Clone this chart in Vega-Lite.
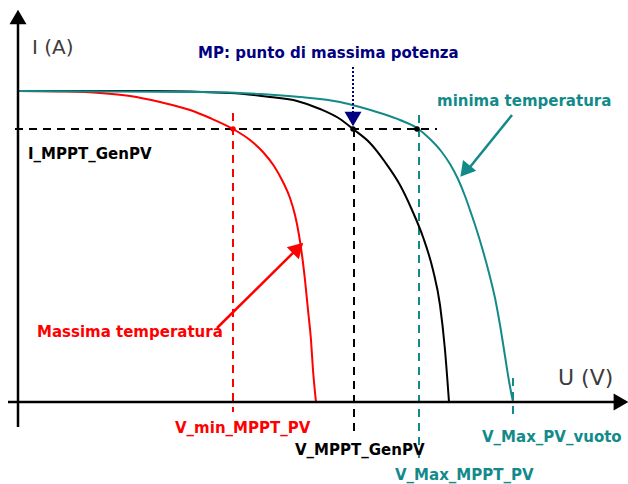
{
  "$schema": "https://vega.github.io/schema/vega-lite/v6.json",
  "width": 628,
  "height": 484,
  "padding": 0,
  "autosize": {"type": "none"},
  "background": "white",
  "config": {"view": {"stroke": null}},
  "datasets": {
    "curve": [
      {"curva": "max", "u": 0, "i": 311}, {"curva": "max", "u": 42, "i": 310.5}, {"curva": "max", "u": 82, "i": 309}, {"curva": "max", "u": 112, "i": 306}, {"curva": "max", "u": 142, "i": 300}, {"curva": "max", "u": 172, "i": 292}, {"curva": "max", "u": 192, "i": 284}, {"curva": "max", "u": 215, "i": 273}, {"curva": "max", "u": 232, "i": 262}, {"curva": "max", "u": 245, "i": 250}, {"curva": "max", "u": 256, "i": 236}, {"curva": "max", "u": 265, "i": 220}, {"curva": "max", "u": 272, "i": 204}, {"curva": "max", "u": 277, "i": 187}, {"curva": "max", "u": 281, "i": 167}, {"curva": "max", "u": 284, "i": 147}, {"curva": "max", "u": 287, "i": 122}, {"curva": "max", "u": 290, "i": 92}, {"curva": "max", "u": 293, "i": 62}, {"curva": "max", "u": 295, "i": 32}, {"curva": "max", "u": 298, "i": 0},
      {"curva": "nom", "u": 0, "i": 311}, {"curva": "nom", "u": 132, "i": 311}, {"curva": "nom", "u": 212, "i": 309}, {"curva": "nom", "u": 252, "i": 305}, {"curva": "nom", "u": 279, "i": 301}, {"curva": "nom", "u": 302, "i": 293}, {"curva": "nom", "u": 322, "i": 283}, {"curva": "nom", "u": 335, "i": 273}, {"curva": "nom", "u": 352, "i": 259}, {"curva": "nom", "u": 367, "i": 240}, {"curva": "nom", "u": 382, "i": 217}, {"curva": "nom", "u": 394, "i": 192}, {"curva": "nom", "u": 405, "i": 165}, {"curva": "nom", "u": 415, "i": 132}, {"curva": "nom", "u": 422, "i": 97}, {"curva": "nom", "u": 427, "i": 52}, {"curva": "nom", "u": 431, "i": 0},
      {"curva": "min", "u": 0, "i": 311}, {"curva": "min", "u": 182, "i": 310}, {"curva": "min", "u": 242, "i": 308}, {"curva": "min", "u": 282, "i": 305}, {"curva": "min", "u": 322, "i": 300}, {"curva": "min", "u": 342, "i": 295}, {"curva": "min", "u": 362, "i": 289}, {"curva": "min", "u": 382, "i": 282}, {"curva": "min", "u": 399, "i": 274}, {"curva": "min", "u": 412, "i": 263}, {"curva": "min", "u": 423, "i": 251}, {"curva": "min", "u": 432, "i": 238}, {"curva": "min", "u": 440, "i": 223}, {"curva": "min", "u": 447, "i": 206}, {"curva": "min", "u": 453, "i": 189}, {"curva": "min", "u": 459, "i": 171}, {"curva": "min", "u": 465, "i": 151}, {"curva": "min", "u": 471, "i": 129}, {"curva": "min", "u": 477, "i": 104}, {"curva": "min", "u": 482, "i": 77}, {"curva": "min", "u": 487, "i": 46}, {"curva": "min", "u": 491, "i": 21}, {"curva": "min", "u": 495, "i": 0}
    ],
    "guide": [
      {"curva": "nom", "u": -3, "i": 273, "u2": 419, "i2": 273},
      {"curva": "max", "u": 215, "i": 289, "u2": 215, "i2": -10},
      {"curva": "nom", "u": 336, "i": 273, "u2": 336, "i2": -35},
      {"curva": "min", "u": 401, "i": 287, "u2": 401, "i2": -56},
      {"curva": "min", "u": 495, "i": 24, "u2": 495, "i2": -18}
    ],
    "dotted": [
      {"curva": "mp", "u": 335, "i": 335, "u2": 335, "i2": 290}
    ],
    "solid": [
      {"curva": "asse", "u": 0, "i": -25, "u2": 0, "i2": 385},
      {"curva": "asse", "u": -10, "i": 0, "u2": 600, "i2": 0},
      {"curva": "max", "u": 199, "i": 74, "u2": 280, "i2": 154},
      {"curva": "min", "u": 494, "i": 287, "u2": 448, "i2": 230}
    ],
    "heads": [
      {"nome": "asse_y", "curva": "asse", "u": 0, "i": 385, "direzione": 0},
      {"nome": "asse_x", "curva": "asse", "u": 603, "i": 0, "direzione": 90},
      {"nome": "mp", "curva": "mp", "u": 335, "i": 283, "direzione": 180},
      {"nome": "max", "curva": "max", "u": 280, "i": 154, "direzione": 45},
      {"nome": "min", "curva": "min", "u": 447, "i": 231, "direzione": 219}
    ],
    "dots": [
      {"curva": "max", "u": 215, "i": 273},
      {"curva": "asse", "u": 335, "i": 273},
      {"curva": "asse", "u": 399, "i": 273}
    ],
    "labels": [
      {"testo": "MP: punto di massima potenza", "curva": "mp", "u": 180, "i": 349},
      {"testo": "minima temperatura", "curva": "min", "u": 419, "i": 301},
      {"testo": "I_MPPT_GenPV", "curva": "nom", "u": 10, "i": 248},
      {"testo": "Massima temperatura", "curva": "max", "u": 19, "i": 70},
      {"testo": "V_min_MPPT_PV", "curva": "max", "u": 157, "i": -26},
      {"testo": "V_MPPT_GenPV", "curva": "nom", "u": 277, "i": -48},
      {"testo": "V_Max_MPPT_PV", "curva": "min", "u": 377, "i": -73},
      {"testo": "V_Max_PV_vuoto", "curva": "min", "u": 464, "i": -35}
    ]
  },
  "encoding": {
    "x": {"field": "u", "type": "quantitative", "scale": {"domain": [-18, 610], "nice": false, "zero": false}, "axis": null},
    "y": {"field": "i", "type": "quantitative", "scale": {"domain": [-82, 402], "nice": false, "zero": false}, "axis": null}
  },
  "layer": [
    {
      "data": {"name": "guide"},
      "mark": {"type": "rule", "strokeWidth": 2, "strokeDash": [8, 6]},
      "encoding": {
        "x2": {"field": "u2"},
        "y2": {"field": "i2"},
        "color": {"field": "curva", "type": "nominal", "scale": {"domain": ["max", "nom", "min", "mp", "asse"], "range": ["#ff0000", "#000000", "#138a8a", "#000080", "#000000"]}, "legend": null}
      }
    },
    {
      "data": {"name": "curve"},
      "mark": {"type": "line", "strokeWidth": 2, "interpolate": "monotone"},
      "encoding": {
        "color": {"field": "curva", "type": "nominal", "legend": null},
        "order": {"field": "u", "type": "quantitative"}
      }
    },
    {
      "data": {"name": "dotted"},
      "mark": {"type": "rule", "strokeWidth": 2, "strokeDash": [2, 2]},
      "encoding": {
        "x2": {"field": "u2"},
        "y2": {"field": "i2"},
        "color": {"field": "curva", "type": "nominal", "legend": null}
      }
    },
    {
      "data": {"name": "solid"},
      "mark": {"type": "rule", "strokeWidth": 2.5},
      "encoding": {
        "x2": {"field": "u2"},
        "y2": {"field": "i2"},
        "color": {"field": "curva", "type": "nominal", "legend": null}
      }
    },
    {
      "data": {"name": "dots"},
      "mark": {"type": "point", "filled": true, "size": 30, "opacity": 1},
      "encoding": {
        "color": {"field": "curva", "type": "nominal", "legend": null}
      }
    },
    {
      "data": {"name": "heads"},
      "mark": {"type": "point", "shape": "triangle-up", "filled": true, "opacity": 1},
      "encoding": {
        "color": {"field": "curva", "type": "nominal", "legend": null},
        "angle": {"field": "direzione", "type": "quantitative", "scale": null},
        "size": {"field": "nome", "type": "nominal", "scale": {"domain": ["asse_y", "asse_x", "mp", "max", "min"], "range": [289, 289, 300, 256, 144]}, "legend": null}
      }
    },
    {
      "data": {"name": "labels"},
      "mark": {"type": "text", "font": "DejaVu Sans", "fontWeight": "bold", "fontSize": 15, "align": "left", "baseline": "middle"},
      "encoding": {
        "text": {"field": "testo"},
        "color": {"field": "curva", "type": "nominal", "legend": null}
      }
    },
    {
      "data": {"values": [{"testo": "I (A)", "u": 14, "i": 354}]},
      "mark": {"type": "text", "font": "DejaVu Sans", "fontSize": 20, "align": "left", "baseline": "middle", "color": "#3c3c3c"},
      "encoding": {"text": {"field": "testo"}}
    },
    {
      "data": {"values": [{"testo": "U (V)", "u": 540, "i": 24}]},
      "mark": {"type": "text", "font": "DejaVu Sans", "fontSize": 22, "align": "left", "baseline": "middle", "color": "#3c3c3c"},
      "encoding": {"text": {"field": "testo"}}
    }
  ]
}
